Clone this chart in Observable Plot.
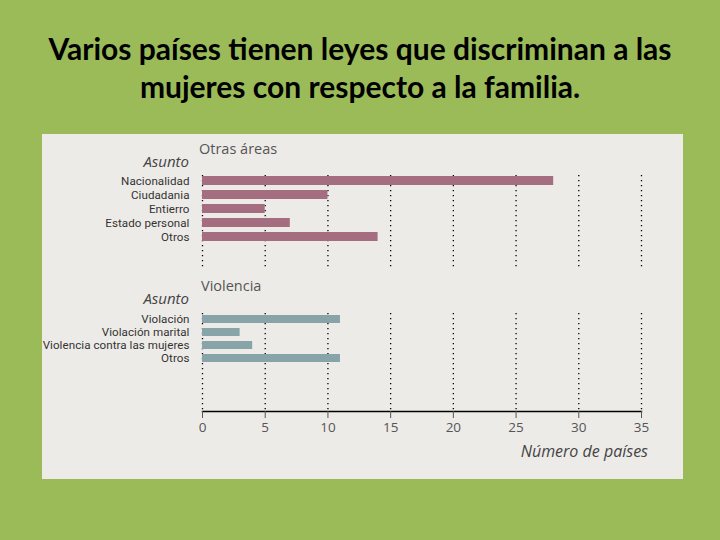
<!DOCTYPE html>
<html>
<head>
<meta charset="utf-8">
<script src="https://cdn.jsdelivr.net/npm/d3@7"></script>
<script src="https://cdn.jsdelivr.net/npm/@observablehq/plot@0.6"></script>
<style>
  html, body { margin: 0; padding: 0; }
  body { width: 720px; height: 540px; background: #9bbb59; position: relative; overflow: hidden; font-family: "Open Sans", sans-serif; }
  #title { position: absolute; left: 0; top: 29px; width: 720px; text-align: center; font-family: Lato, "Open Sans", sans-serif; font-weight: 700; font-size: 30px; line-height: 38px; color: #000; }
  #panel { position: absolute; left: 42px; top: 134px; width: 641px; height: 345px; background: #edebe8; overflow: hidden; }
  .head { position: absolute; font-size: 14.5px; color: #555; line-height: 1; white-space: nowrap; }
  .asunto { position: absolute; font-size: 15px; font-style: italic; color: #444; line-height: 1; text-align: right; white-space: nowrap; }
  .plotbox { position: absolute; left: 0; }
  #xlabel { position: absolute; right: 35px; top: 306px; font-size: 16px; font-style: italic; color: #444; white-space: nowrap; }
  g[aria-label="y-axis tick label"] { letter-spacing: 0.05px; }
</style>
</head>
<body>
<div id="title">Varios países tienen leyes que discriminan a las<br>mujeres con respecto a la familia.</div>
<div id="panel">
  <div class="head" style="left:157px; top:8px;">Otras áreas</div>
  <div class="asunto" style="right:494px; top:20px;">Asunto</div>
  <div class="plotbox" id="top" style="top:38px;"></div>
  <div class="head" style="left:159px; top:145px;">Violencia</div>
  <div class="asunto" style="right:494px; top:157px;">Asunto</div>
  <div class="plotbox" id="bottom" style="top:177px;"></div>
  <div id="xlabel">Número de países</div>
</div>
<script>
const otrasCategorias = ["Nacionalidad", "Ciudadania", "Entierro", "Estado personal", "Otros"];
const otrasValores = [28, 10, 5, 7, 14];
const violenciaCategorias = ["Violación", "Violación marital", "Violencia contra las mujeres", "Otros"];
const violenciaValores = [11, 3, 4, 11];
const xTicks = [0, 5, 10, 15, 20, 25, 30, 35];

const otras = otrasCategorias.map((c, i) => ({cat: c, val: otrasValores[i]}));
const violencia = violenciaCategorias.map((c, i) => ({cat: c, val: violenciaValores[i]}));

const common = {
  width: 641,
  marginLeft: 160,
  marginRight: 42,
  style: {background: "transparent", fontFamily: "'Open Sans', sans-serif", overflow: "visible"}
};
const grid = Plot.ruleX(xTicks, {stroke: "#000", strokeWidth: 1.3, strokeDasharray: "1.3,3.7"});
const labelFont = {fontFamily: "Roboto, sans-serif", fontSize: 11.6};

const topPlot = Plot.plot({
  ...common,
  height: 96,
  marginTop: 3,
  marginBottom: 0,
  x: {domain: [0, 35], axis: null},
  y: {domain: otrasCategorias, range: [3.5, 69.5], paddingInner: 0.368, paddingOuter: 0, axis: null},
  marks: [
    grid,
    Plot.barX(otras, {x: "val", y: "cat", fill: "#a56d80"}),
    Plot.ruleX(otras, {x: () => 0, y: "cat", stroke: "#000", strokeWidth: 1.5, insetTop: -2.7, insetBottom: -2.7}),
    Plot.axisY({tickSize: 0, tickPadding: 13, ...labelFont, color: "#333", label: null})
  ]
});
document.getElementById("top").append(topPlot);

const bottomPlot = Plot.plot({
  ...common,
  height: 140,
  marginTop: 2,
  marginBottom: 40,
  x: {domain: [0, 35]},
  y: {domain: violenciaCategorias, range: [2.5, 53.5], paddingInner: 0.357, paddingOuter: 0, axis: null},
  marks: [
    grid,
    Plot.barX(violencia, {x: "val", y: "cat", fill: "#87a5a9"}),
    Plot.ruleX(violencia, {x: () => 0, y: "cat", stroke: "#000", strokeWidth: 1.5, insetTop: -2.6, insetBottom: -2.6}),
    Plot.frame({anchor: "bottom", stroke: "#000", strokeWidth: 1.5}),
    Plot.axisX({ticks: xTicks, tickSize: 7, tickPadding: 4, fontSize: 13.5, color: "#555", label: null}),
    Plot.axisY({tickSize: 0, tickPadding: 13, ...labelFont, color: "#333", label: null})
  ]
});
document.getElementById("bottom").append(bottomPlot);
</script>
</body>
</html>
